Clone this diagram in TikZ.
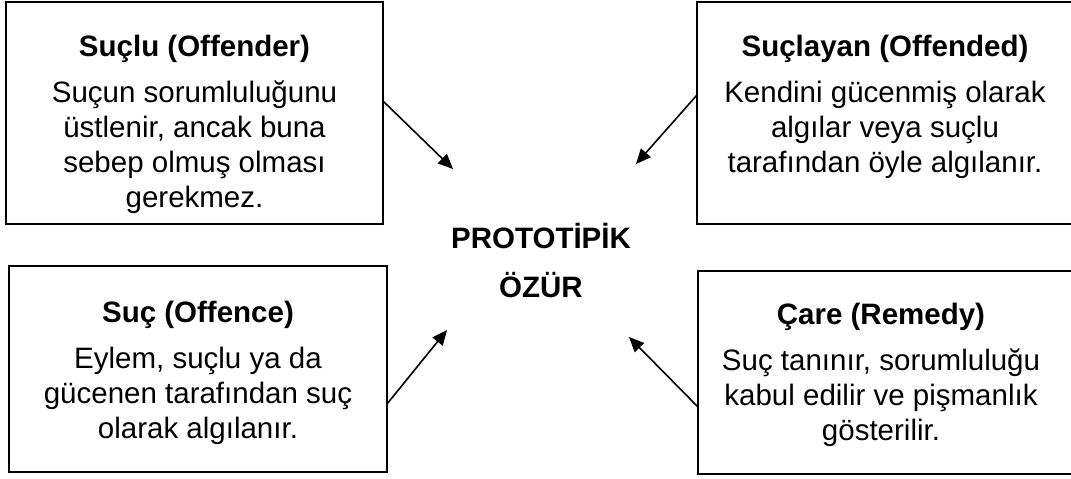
\documentclass[tikz,border=0pt]{standalone}
\usepackage{fontspec}
\setmainfont{Liberation Sans}
\usetikzlibrary{arrows.meta}
\begin{document}
\begin{tikzpicture}[x=1pt,y=-1pt,
				every node/.style={inner sep=0pt,outer sep=0pt,font=\fontsize{29.5}{35}\selectfont},
				box/.style={draw,line width=2pt},
				txt/.style={align=center,anchor=north},
				link/.style={line width=1.6pt,-{Triangle[length=15pt,width=13pt]}}]
\clip (0,0) rectangle (1071,479);
\node[box,minimum width=377pt,minimum height=222pt] (offender) at (194.5,113) {};
\node[box,minimum width=388pt,minimum height=222pt] (offended) at (891,113) {};
\node[box,minimum width=378pt,minimum height=206pt] (offence) at (198,369) {};
\node[box,minimum width=387pt,minimum height=203pt] (remedy) at (891.5,372.5) {};
\node[txt] (offendertxt) at (194.5,35) {\textbf{Suçlu (Offender)}\\[11pt]
	Suçun sorumluluğunu\\ üstlenir, ancak buna\\ sebep olmuş olması\\ gerekmez.};
\node[txt] (offendedtxt) at (885,35) {\textbf{Suçlayan (Offended)}\\[11pt]
	Kendini gücenmiş olarak\\ algılar veya suçlu\\ tarafından öyle algılanır.};
\node[txt] (offencetxt) at (198,301) {\textbf{Suç (Offence)}\\[11pt]
	Eylem, suçlu ya da\\ gücenen tarafından suç\\ olarak algılanır.};
\node[txt] (remedytxt) at (881,303) {\textbf{Çare (Remedy)}\\[11pt]
	Suç tanınır, sorumluluğu\\ kabul edilir ve pişmanlık\\ gösterilir.};
\node[align=center,font=\fontsize{29.5}{35}\selectfont\bfseries] (ozur) at (541,261) {PROTOTİPİK\\[14pt]ÖZÜR};
\coordinate (tipA) at (453,169);
\coordinate (tipB) at (636,164);
\coordinate (tipC) at (447,330);
\coordinate (tipD) at (629,337);
\draw[link] ([yshift=12pt]offender.east) -- (tipA);
\draw[link] ([yshift=18pt]offended.west) -- (tipB);
\draw[link] ([yshift=-35pt]offence.east) -- (tipC);
\draw[link] ([yshift=-34.5pt]remedy.west) -- (tipD);
\end{tikzpicture}
\end{document}
